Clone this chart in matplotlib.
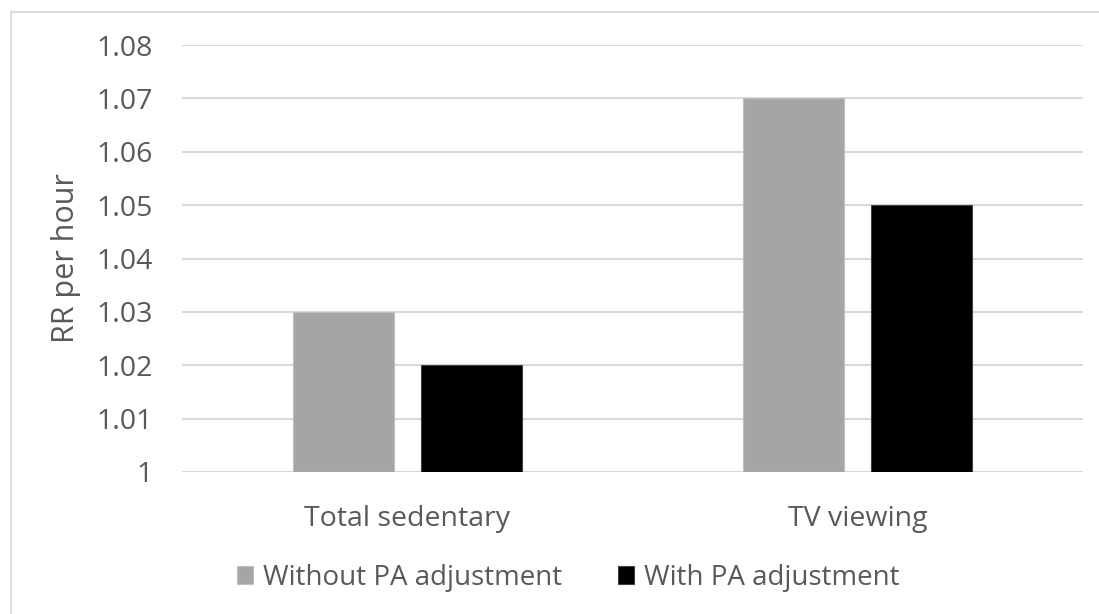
import matplotlib.pyplot as plt
import matplotlib.patches as patches
import numpy as np

categories = ["Total sedentary", "TV viewing"]
without_pa = [1.03, 1.07]
with_pa = [1.02, 1.05]
series_names = ["Without PA adjustment", "With PA adjustment"]
yticks = [1, 1.01, 1.02, 1.03, 1.04, 1.05, 1.06, 1.07, 1.08]
ytick_labels = ["1", "1.01", "1.02", "1.03", "1.04", "1.05", "1.06", "1.07", "1.08"]

txt = "#595959"
plt.rcParams['font.family'] = ['Open Sans', 'DejaVu Sans']

fig = plt.figure(figsize=(10.99, 6.14), dpi=100)
W, H = 1099, 614
ax = fig.add_axes([182 / W, 1 - 472 / H, (1083 - 182) / W, (472 - 45) / H])

# light chart-area border
fig.patches.append(patches.Rectangle((11 / W, -0.1), 1.2, (1 - 12 / H) + 0.1,
                                     transform=fig.transFigure, fill=False,
                                     edgecolor="#D9D9D9", lw=1.3))

x = np.arange(len(categories))
bw = 0.224
off = 0.142
ax.bar(x - off, np.array(without_pa) - 1, bw, bottom=1, color="#A5A5A5",
       edgecolor="#BFBFBF", lw=0.8, label=series_names[0], zorder=3)
ax.bar(x + off, np.array(with_pa) - 1, bw, bottom=1, color="#000000",
       edgecolor="#404040", lw=0.8, label=series_names[1], zorder=3)

ax.set_xlim(-0.5, 1.5)
ax.set_ylim(1, 1.08)
ax.set_yticks(yticks)
ax.set_yticklabels(ytick_labels)
ax.set_xticks(x)
ax.set_xticklabels(categories)
ax.grid(axis='y', color="#D9D9D9", lw=1.5, zorder=0)
for s in ax.spines.values():
    s.set_visible(False)
ax.tick_params(axis='both', length=0, colors=txt, labelsize=20.5)
ax.tick_params(axis='y', pad=21)
ax.tick_params(axis='x', pad=24)
ax.set_ylabel("RR per hour", color=txt, fontsize=22, labelpad=11)

fig.legend(loc='center', bbox_to_anchor=(568 / W, 1 - 578 / H), ncol=2,
           frameon=False, fontsize=20, labelcolor=txt, handlelength=0.6,
           handleheight=0.6, handletextpad=0.35, columnspacing=2.0)

fig.savefig("out.png", dpi=100)
